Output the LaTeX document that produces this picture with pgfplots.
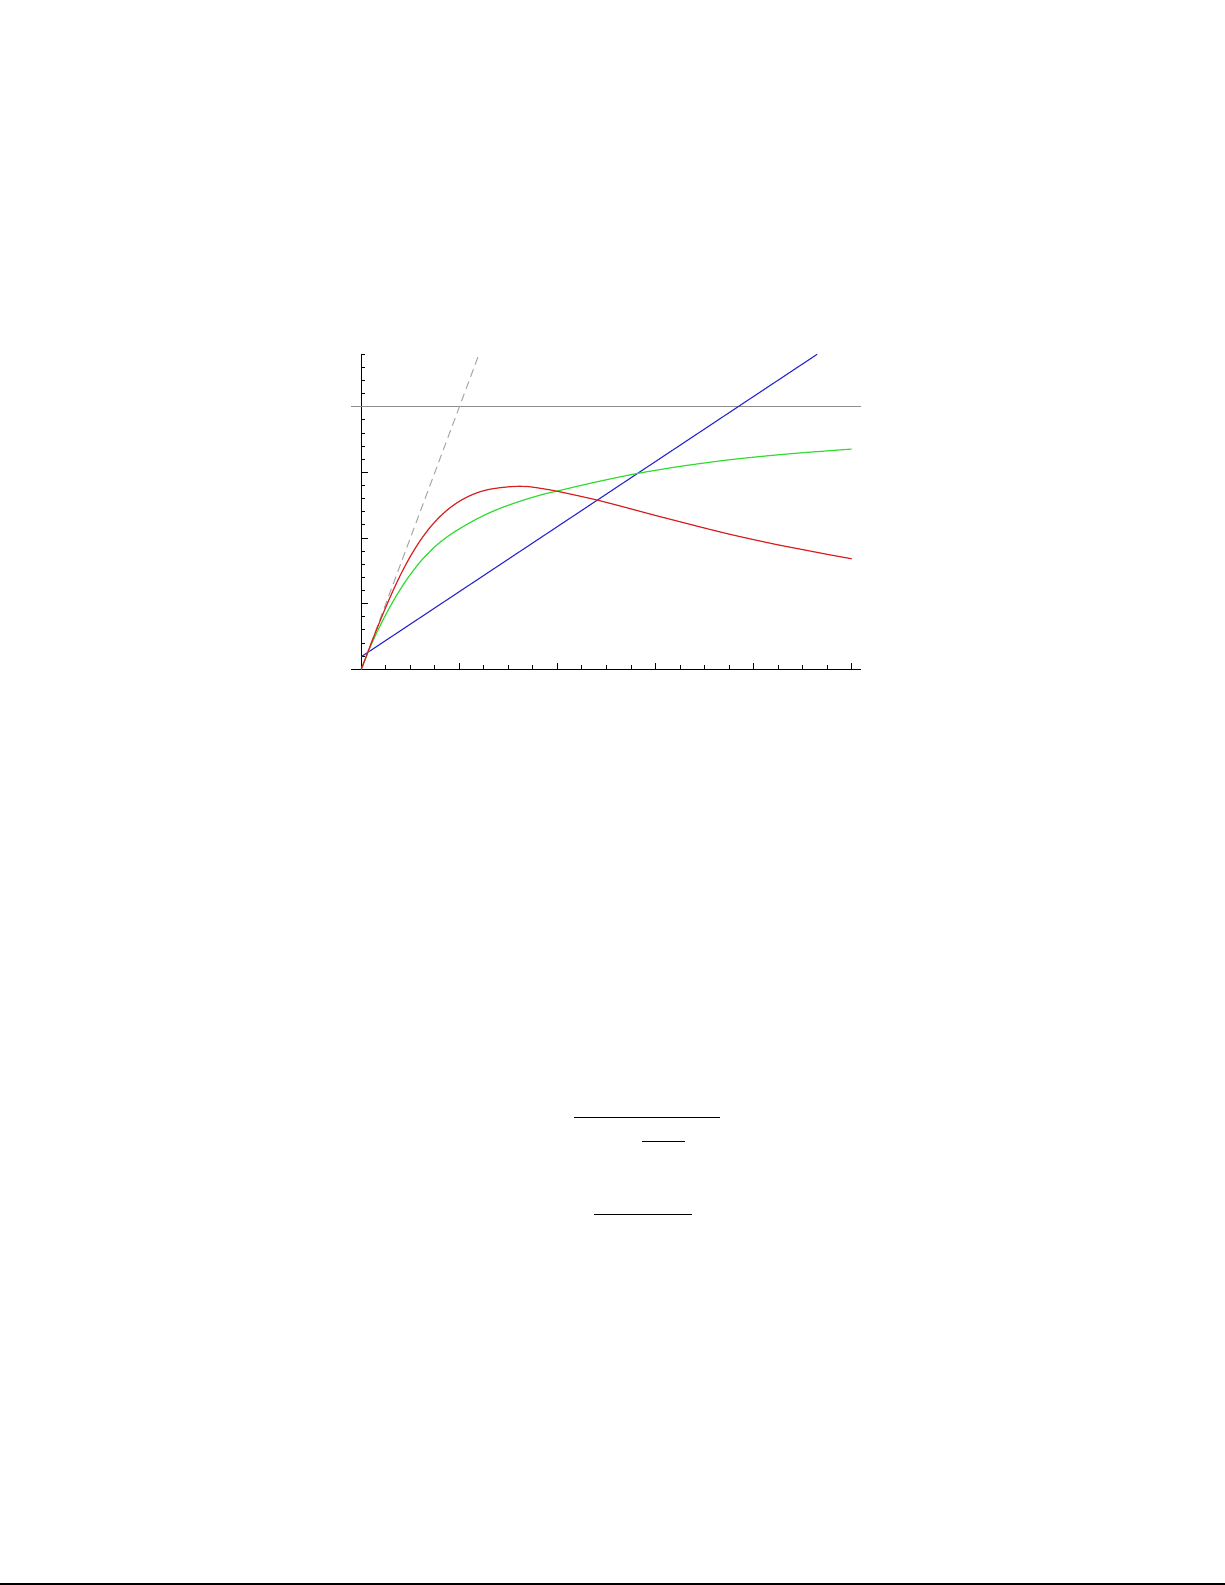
\documentclass[border=0pt]{standalone}
\usepackage{pgfplots}
\pgfplotsset{compat=1.18}
\definecolor{cred}{rgb}{0.85,0.12,0.12}
\definecolor{cgreen}{rgb}{0.2,0.86,0.2}
\definecolor{cblue}{rgb}{0.15,0.15,0.8}
\pgfplotstableread{
x y
0 0
0.1 0.098
0.2 0.192
0.3 0.280
0.4 0.360
0.5 0.430
0.6 0.490
0.7 0.540
0.8 0.581
0.9 0.614
1.0 0.640
1.1 0.660
1.2 0.675
1.3 0.685
1.4 0.691
1.5 0.695
1.6 0.697
1.7 0.696
1.8 0.691
1.9 0.685
2.0 0.678
2.2 0.662
2.4 0.645
2.6 0.626
2.8 0.606
3.0 0.586
3.25 0.562
3.5 0.538
3.75 0.515
4.0 0.494
4.25 0.474
4.5 0.456
4.75 0.438
5.0 0.421
}\redtab
\pgfplotstableread{
x y
0 0
0.1 0.093
0.2 0.172
0.3 0.243
0.4 0.306
0.5 0.361
0.6 0.409
0.7 0.449
0.8 0.483
0.9 0.511
1.0 0.535
1.1 0.557
1.2 0.577
1.3 0.595
1.4 0.611
1.5 0.625
1.6 0.638
1.7 0.650
1.8 0.661
1.9 0.671
2.0 0.679
2.2 0.697
2.4 0.714
2.6 0.730
2.8 0.745
3.0 0.758
3.25 0.773
3.5 0.786
3.75 0.798
4.0 0.808
4.25 0.817
4.5 0.825
4.75 0.832
5.0 0.839
}\greentab
\begin{document}
\begin{tikzpicture}
\useasboundingbox (0,0) rectangle (612bp,-792bp);
\begin{axis}[
  at={(175.39bp,-334.43bp)}, anchor=south west,
  scale only axis, width=254.83bp, height=157.4bp,
  xmin=-0.105, xmax=5.095, ymin=0, ymax=1.2,
  axis lines=middle, axis line style={-, line width=0.6bp, black},
  xtick={0,1,2,3,4,5}, ytick={0,0.25,0.5,0.75,1},
  minor xtick={0.25,0.5,0.75,1.25,1.5,1.75,2.25,2.5,2.75,3.25,3.5,3.75,4.25,4.5,4.75},
  minor ytick={0.05,0.1,0.15,0.2,0.3,0.35,0.4,0.45,0.55,0.6,0.65,0.7,0.8,0.85,0.9,0.95,1.05,1.1,1.15,1.2},
  xticklabels={}, yticklabels={},
  tick align=inside, major tick length=3.2bp, minor tick length=2bp,
  tick style={black, line width=0.5bp},
  clip=false,
]
\addplot[gray!90, line width=0.6bp] coordinates {(-0.105,1) (5.095,1)};
\addplot[gray!70, line width=0.5bp, dash pattern=on 4bp off 2.5bp] coordinates {(0,0) (1.2,1.2)};
\addplot[cblue, line width=0.55bp] coordinates {(0,0.048) (4.648,1.2)};
\addplot[cgreen, line width=0.6bp, smooth] table[x=x,y=y] {\greentab};
\addplot[cred, line width=0.6bp, smooth] table[x=x,y=y] {\redtab};
\end{axis}
\draw[line width=0.6bp] (286.81bp,-558.29bp) -- (359.77bp,-558.29bp);
\draw[line width=0.6bp] (320.79bp,-570.28bp) -- (342.28bp,-570.28bp);
\draw[line width=0.6bp] (296.81bp,-606.76bp) -- (345.78bp,-606.76bp);
\draw[line width=1bp] (0,-791.3bp) -- (612bp,-791.3bp);
\end{tikzpicture}
\end{document}
